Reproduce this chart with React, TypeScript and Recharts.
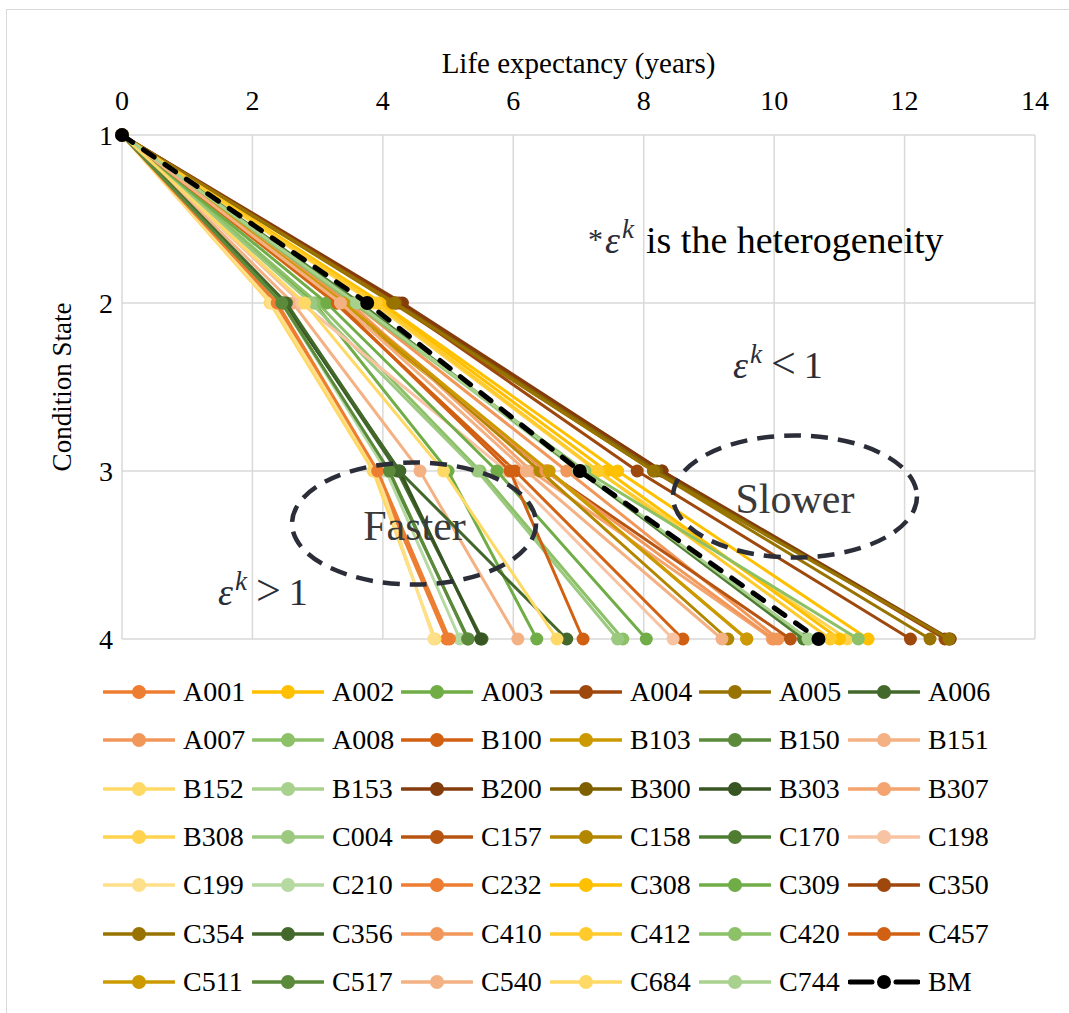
import React from 'react';
import {
  ScatterChart,
  Scatter,
  XAxis,
  YAxis,
  CartesianGrid,
  Legend,
  ReferenceDot,
} from 'recharts';

// Bridge identifiers, in legend order
const seriesNames = [
  'A001', 'A002', 'A003', 'A004', 'A005', 'A006',
  'A007', 'A008', 'B100', 'B103', 'B150', 'B151',
  'B152', 'B153', 'B200', 'B300', 'B303', 'B307',
  'B308', 'C004', 'C157', 'C158', 'C170', 'C198',
  'C199', 'C210', 'C232', 'C308', 'C309', 'C350',
  'C354', 'C356', 'C410', 'C412', 'C420', 'C457',
  'C511', 'C517', 'C540', 'C684', 'C744',
];

const seriesColors = [
  '#ED7D31', '#FFC000', '#70AD47', '#9E480E', '#997300', '#43682B',
  '#F1975A', '#8CC168', '#D26012', '#CC9A00', '#5A8A3A', '#F4B183',
  '#FFD966', '#A9D18E', '#843C0C', '#7F6000', '#375623', '#F4A46E',
  '#FFD34D', '#9BC97F', '#B85411', '#B38600', '#4E7D32', '#F8C3A2',
  '#FFE08A', '#B5D9A0', '#ED7D31', '#FFC000', '#70AD47', '#9E480E',
  '#997300', '#43682B', '#F1975A', '#FFCA2C', '#8CC168', '#D26012',
  '#CC9A00', '#5A8A3A', '#F4B183', '#FFD966', '#A9D18E',
];

// Life expectancy (years) at which each condition state is reached
const yearsAtState2 = [
  2.35, 3.98, 2.95, 4.25, 4.15, 2.50,
  3.55, 3.00, 3.27, 3.30, 2.45, 2.62,
  2.27, 3.60, 4.30, 4.20, 2.48, 3.50,
  3.85, 2.90, 3.40, 3.45, 3.65, 2.75,
  2.30, 2.45, 2.38, 3.95, 3.14, 4.20,
  4.18, 2.52, 3.45, 3.90, 3.55, 3.30,
  3.40, 2.45, 3.35, 2.80, 3.60,
];

const yearsAtState3 = [
  3.88, 7.60, 5.00, 8.28, 8.15, 4.22,
  6.82, 5.49, 6.03, 6.53, 4.08, 4.57,
  3.85, 7.00, 8.28, 8.20, 4.26, 6.28,
  7.28, 5.45, 6.50, 6.41, 7.02, 5.90,
  3.90, 4.05, 3.92, 7.43, 5.75, 7.90,
  8.15, 4.25, 6.50, 7.30, 7.10, 5.95,
  6.55, 4.10, 6.20, 4.93, 7.05,
];

const yearsAtState4 = [
  4.98, 11.44, 6.36, 12.62, 12.39, 5.52,
  10.06, 7.68, 8.60, 9.58, 5.31, 6.07,
  4.80, 10.52, 12.70, 12.68, 5.50, 9.97,
  11.12, 7.60, 10.25, 9.29, 10.45, 8.45,
  4.78, 5.18, 5.02, 11.00, 8.04, 12.09,
  12.68, 6.82, 9.99, 10.86, 11.29, 7.07,
  9.58, 5.30, 9.20, 6.67, 10.52,
];

const benchmarkName = 'BM';
const benchmarkYears = [0, 3.76, 7.02, 10.68];

const conditionStates = [1, 2, 3, 4];
const yearTicks = [0, 2, 4, 6, 8, 10, 12, 14];

const FONT = '"Liberation Serif", "Times New Roman", serif';
const INK = '#2b2d38';

type Pt = { x: number; y: number };
const toPoints = (years: number[]): Pt[] =>
  years.map((x, i) => ({ x, y: conditionStates[i] }));

const series = seriesNames.map((name, i) => ({
  name,
  color: seriesColors[i],
  points: toPoints([0, yearsAtState2[i], yearsAtState3[i], yearsAtState4[i]]),
}));

const benchmark = {
  name: benchmarkName,
  color: '#000000',
  points: toPoints(benchmarkYears),
};

const legendItems = [
  ...series.map((s) => ({ name: s.name, color: s.color, dashed: false })),
  { name: benchmark.name, color: benchmark.color, dashed: true },
];

// Annotation anchors, in axis units (years, condition state)
const fasterCircle = { x: 4.478, y: 3.3125 };
const slowerCircle = { x: 10.32, y: 3.152 };
const fasterLabel = { x: 4.485, y: 3.411 };
const slowerLabel = { x: 10.32, y: 3.25 };
const noteLabel = { x: 7.146, y: 1.702 };
const lowLabel = { x: 9.37, y: 2.446 };
const highLabel = { x: 1.472, y: 3.798 };

function LegendBlock() {
  return (
    <div style={{ position: 'relative', width: 1069, height: 374, fontFamily: FONT }}>
      {legendItems.map((it, i) => {
        const col = i % 6;
        const row = Math.floor(i / 6);
        return (
          <div
            key={it.name}
            style={{
              position: 'absolute',
              left: 103 + col * 149,
              top: 29 + row * 48.3,
              height: 48,
              display: 'flex',
              alignItems: 'center',
              whiteSpace: 'nowrap',
            }}
          >
            <svg width={72} height={20} style={{ display: 'block' }}>
              <line
                x1={it.dashed ? 2 : 1}
                x2={it.dashed ? 70 : 71}
                y1={10}
                y2={10}
                stroke={it.color}
                strokeWidth={it.dashed ? 5 : 3.5}
                strokeLinecap="round"
                strokeDasharray={it.dashed ? '22 24' : undefined}
              />
              <circle cx={36} cy={10} r={7} fill={it.color} />
            </svg>
            <span style={{ marginLeft: 8, fontSize: 28, color: '#000', lineHeight: '48px' }}>
              {it.name}
            </span>
          </div>
        );
      })}
    </div>
  );
}

const ellipseShape = (p: any) => (
  <ellipse
    cx={p.cx}
    cy={p.cy}
    rx={122}
    ry={61}
    fill="none"
    stroke={INK}
    strokeWidth={4.5}
    strokeDasharray="17 10"
  />
);

const wordShape = (word: string) => (p: any) => (
  <text
    x={p.cx}
    y={p.cy}
    textAnchor="middle"
    fontFamily={FONT}
    fontSize={42}
    fill="#3a3a3a"
  >
    {word}
  </text>
);

// ε with superscript k, followed by a relation or a note
const noteShape = (p: any) => (
  <text x={p.cx} y={p.cy} fontFamily={FONT} fontSize={38} fill={INK}>
    <tspan fontSize={30} dy={-4}>*</tspan>
    <tspan fontStyle="italic" dx={2} dy={4}>ε</tspan>
    <tspan fontStyle="italic" fontSize={27} dx={2} dy={-15}>k</tspan>
    <tspan dx={12} dy={15} fill="#000">is the heterogeneity</tspan>
  </text>
);

const relationShape = (rel: string) => (p: any) => (
  <text x={p.cx} y={p.cy} fontFamily={FONT} fontSize={38} fill={INK}>
    <tspan fontStyle="italic">ε</tspan>
    <tspan fontStyle="italic" fontSize={27} dx={2} dy={-15}>k</tspan>
    <tspan fontSize={44} dx={9} dy={15}>{rel}</tspan>
    <tspan dx={8}>1</tspan>
  </text>
);

export default function App() {
  return (
    <div
      style={{
        position: 'absolute',
        left: 0,
        top: 0,
        width: 1069,
        height: 1013,
        overflow: 'hidden',
        background: '#fff',
      }}
    >
      <div
        style={{
          position: 'absolute',
          left: 6,
          top: 9,
          width: 1200,
          height: 1200,
          border: '1.5px solid #d9d9d9',
        }}
      />
      <ScatterChart
        width={1069}
        height={1013}
        margin={{ top: 20, right: 34, bottom: 0, left: 30 }}
      >
        <CartesianGrid stroke="#d9d9d9" strokeWidth={1.5} />
        <XAxis
          type="number"
          dataKey="x"
          orientation="top"
          domain={[0, 14]}
          ticks={yearTicks}
          interval={0}
          height={115}
          axisLine={false}
          tickLine={false}
          tickSize={0}
          tickMargin={25}
          tick={{ fontSize: 28, fill: '#000', fontFamily: FONT }}
          label={{
            content: (props: any) => {
              const vb = props.viewBox || {};
              return (
                <text
                  x={(vb.x ?? 122) + (vb.width ?? 913) / 2}
                  y={(vb.y ?? 20) + 53}
                  textAnchor="middle"
                  fontFamily={FONT}
                  fontSize={29}
                  fill="#000"
                >
                  Life expectancy (years)
                </text>
              );
            },
          }}
        />
        <YAxis
          type="number"
          dataKey="y"
          domain={[1, 4]}
          reversed
          ticks={conditionStates}
          interval={0}
          width={92}
          axisLine={false}
          tickLine={false}
          tickSize={0}
          tickMargin={9}
          tick={{ fontSize: 28, fill: '#000', fontFamily: FONT }}
          label={{
            content: (props: any) => {
              const vb = props.viewBox || {};
              const cx = (vb.x ?? 30) + 32;
              const cy = (vb.y ?? 135) + (vb.height ?? 504) / 2;
              return (
                <text
                  x={cx}
                  y={cy}
                  transform={`rotate(-90 ${cx} ${cy})`}
                  textAnchor="middle"
                  dominantBaseline="central"
                  fontFamily={FONT}
                  fontSize={27}
                  fill="#000"
                >
                  Condition State
                </text>
              );
            },
          }}
        />
        {series.map((s) => (
          <Scatter
            key={s.name}
            name={s.name}
            data={s.points}
            fill={s.color}
            line={{ stroke: s.color, strokeWidth: 3 }}
            shape={(p: any) => <circle cx={p.cx} cy={p.cy} r={6.5} fill={s.color} />}
            isAnimationActive={false}
          />
        ))}
        <Scatter
          name={benchmark.name}
          data={benchmark.points}
          fill={benchmark.color}
          line={{
            stroke: benchmark.color,
            strokeWidth: 5,
            strokeDasharray: '13 13',
            strokeLinecap: 'round',
          }}
          shape={(p: any) => <circle cx={p.cx} cy={p.cy} r={7} fill={benchmark.color} />}
          isAnimationActive={false}
        />
        <ReferenceDot x={fasterCircle.x} y={fasterCircle.y} shape={ellipseShape} />
        <ReferenceDot x={slowerCircle.x} y={slowerCircle.y} shape={ellipseShape} />
        <ReferenceDot x={fasterLabel.x} y={fasterLabel.y} shape={wordShape('Faster')} />
        <ReferenceDot x={slowerLabel.x} y={slowerLabel.y} shape={wordShape('Slower')} />
        <ReferenceDot x={noteLabel.x} y={noteLabel.y} shape={noteShape} />
        <ReferenceDot x={lowLabel.x} y={lowLabel.y} shape={relationShape('<')} />
        <ReferenceDot x={highLabel.x} y={highLabel.y} shape={relationShape('>')} />
        <Legend
          verticalAlign="bottom"
          layout="horizontal"
          wrapperStyle={{ left: 0, width: 1069 }}
          content={() => <LegendBlock />}
        />
      </ScatterChart>
    </div>
  );
}
